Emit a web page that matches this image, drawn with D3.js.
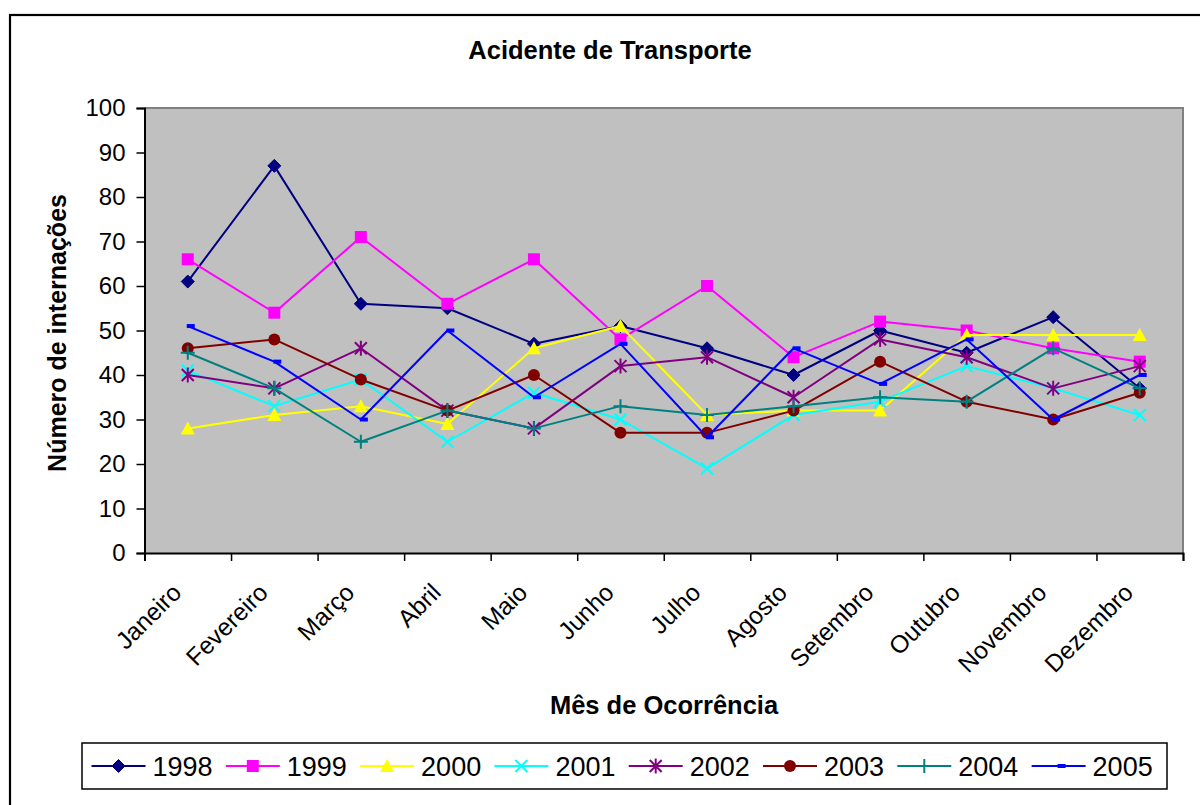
<!DOCTYPE html>
<html><head><meta charset="utf-8">
<script src="https://cdn.jsdelivr.net/npm/d3@7"></script>
<style>body{margin:0;background:#fff}svg{display:block;font-family:"Liberation Sans",Arial,sans-serif}</style>
</head><body><svg id="c" width="1200" height="805"></svg>
<script>
const months=["Janeiro","Fevereiro","Março","Abril","Maio","Junho","Julho","Agosto","Setembro","Outubro","Novembro","Dezembro"];
const years=["1998","1999","2000","2001","2002","2003","2004","2005"];
const v1998=[61,87,56,55,47,51,46,40,50,45,53,37];
const v1999=[66,54,71,56,66,48,60,44,52,50,46,43];
const v2000=[28,31,33,29,46,51,31,32,32,49,49,49];
const v2001=[41,33,39,25,36,30,19,31,34,42,37,31];
const v2002=[40,37,46,32,28,42,44,35,48,44,37,42];
const v2003=[46,48,39,32,40,27,27,32,43,34,30,36];
const v2004=[45,37,25,32,28,33,31,33,35,34,46,37];
const v2005=[51,43,30,50,35,47,26,46,38,48,30,40];
const yTicks=[0,10,20,30,40,50,60,70,80,90,100];
const titleText="Acidente de Transporte";
const xTitle="Mês de Ocorrência";
const yTitle="Número de internações";
const colors=["#000080","#FF00FF","#FFFF00","#00FFFF","#800080","#800000","#008080","#0000FF"];
const markers=["diamond","square","triangle","x","star","circle","plus","dash"];
const series=[v1998,v1999,v2000,v2001,v2002,v2003,v2004,v2005].map((v,i)=>({name:years[i],values:v,color:colors[i],marker:markers[i]}));

const svg=d3.select("#c");
svg.append("rect").attr("x",10).attr("y",15).attr("width",1200).attr("height",800)
  .attr("fill","#fff").attr("stroke","#000").attr("stroke-width",2.2);

const L=144.5,R=1183,T=108,B=553;
const x=d3.scaleBand().domain(months).range([L,R]);
const xb=d3.scaleLinear().domain([0,12]).range([L,R]);
const y=d3.scaleLinear().domain([0,100]).range([B,T]);
const cx=m=>x(m)+x.bandwidth()/2;

svg.append("rect").attr("x",L).attr("y",T).attr("width",R-L).attr("height",B-T).attr("fill","#C0C0C0");
svg.append("path").attr("d",`M${L},${T}H${R}V${B}`).attr("fill","none").attr("stroke","#808080").attr("stroke-width",2);

// Y axis
const ya=svg.append("g").attr("transform",`translate(${L},0)`)
  .call(d3.axisLeft(y).tickValues(yTicks).tickSize(8).tickPadding(11));
ya.select(".domain").attr("stroke","#000").attr("stroke-width",2);
ya.selectAll(".tick line").attr("stroke","#000").attr("stroke-width",1.5);
ya.selectAll("text").attr("font-size",24).attr("fill","#000").attr("font-family","Liberation Sans, Arial, sans-serif");

// X axis boundary ticks
const xa=svg.append("g").attr("transform",`translate(0,${B})`)
  .call(d3.axisBottom(xb).tickValues(d3.range(13)).tickSize(8).tickFormat(""));
xa.select(".domain").attr("stroke","#000").attr("stroke-width",2);
xa.selectAll(".tick line").attr("stroke","#000").attr("stroke-width",1.5);
// X labels
const xl=svg.append("g").attr("transform",`translate(0,${B})`)
  .call(d3.axisBottom(x).tickSize(0));
xl.select(".domain").remove();
xl.selectAll("text").attr("x",0).attr("y",0).attr("dy",0)
  .attr("text-anchor","end").attr("transform","translate(-5,41) rotate(-45)")
  .attr("font-size",24.5).attr("fill","#000").attr("font-family","Liberation Sans, Arial, sans-serif");

// Titles
svg.append("text").attr("x",610).attr("y",59).attr("text-anchor","middle")
  .attr("font-size",25.5).attr("font-weight","bold").text(titleText);
svg.append("text").attr("x",664).attr("y",714).attr("text-anchor","middle")
  .attr("font-size",25.5).attr("font-weight","bold").text(xTitle);
svg.append("text").attr("transform","translate(66,333) rotate(-90)").attr("text-anchor","middle")
  .attr("font-size",25).attr("font-weight","bold").text(yTitle);

function drawMarker(g,type,color){
  switch(type){
    case "diamond": g.append("path").attr("d","M0,-6.5L6.5,0L0,6.5L-6.5,0Z").attr("fill",color).attr("stroke",color); break;
    case "square": g.append("rect").attr("x",-6).attr("y",-6).attr("width",12).attr("height",12).attr("fill",color); break;
    case "triangle": g.append("path").attr("d","M0,-7L7,6L-7,6Z").attr("fill",color); break;
    case "x": g.append("path").attr("d","M-6,-6L6,6M-6,6L6,-6").attr("stroke",color).attr("stroke-width",2); break;
    case "star": g.append("path").attr("d","M-6,-6L6,6M-6,6L6,-6M0,-7.5V7.5").attr("stroke",color).attr("stroke-width",2); break;
    case "circle": g.append("circle").attr("r",6).attr("fill",color); break;
    case "plus": g.append("path").attr("d","M-7,0H7M0,-7V7").attr("stroke",color).attr("stroke-width",2); break;
    case "dash": g.append("rect").attr("x",-1).attr("y",-2).attr("width",8).attr("height",4).attr("fill",color); break;
  }
}

const line=d3.line().x((d,i)=>cx(months[i])).y(d=>y(d));
series.forEach(s=>{
  const g=svg.append("g");
  g.append("path").datum(s.values).attr("d",line).attr("fill","none").attr("stroke",s.color).attr("stroke-width",2).attr("stroke-linejoin","round");
  s.values.forEach((v,i)=>{
    const mg=g.append("g").attr("transform",`translate(${cx(months[i])},${y(v)})`);
    drawMarker(mg,s.marker,s.color);
  });
});

// Legend
const lg=svg.append("g");
lg.append("rect").attr("x",82).attr("y",743).attr("width",1085).attr("height",46).attr("fill","#fff").attr("stroke","#000").attr("stroke-width",1.5);
const step=134.3;
series.forEach((s,i)=>{
  const x0=91.5+i*step;
  lg.append("line").attr("x1",x0).attr("x2",x0+54).attr("y1",766).attr("y2",766).attr("stroke",s.color).attr("stroke-width",2);
  const mg=lg.append("g").attr("transform",`translate(${x0+27},766)`);
  drawMarker(mg,s.marker,s.color);
  lg.append("text").attr("x",x0+61).attr("y",775.5).attr("font-size",27).attr("fill","#000").text(s.name);
});
</script></body></html>
